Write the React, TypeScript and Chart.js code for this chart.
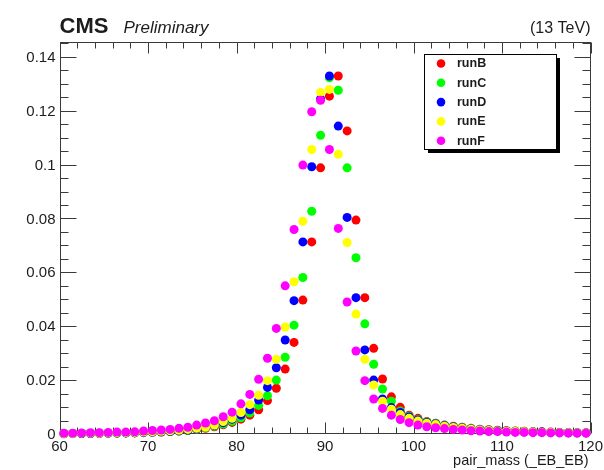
import { useEffect, useRef } from "react";
import { Chart, registerables } from "chart.js";

Chart.register(...registerables);

// Bin centres of pair_mass (GeV), 1 GeV bins from 60 to 120
const binCenters = [
  60.5, 61.5, 62.5, 63.5, 64.5, 65.5, 66.5, 67.5, 68.5, 69.5,
  70.5, 71.5, 72.5, 73.5, 74.5, 75.5, 76.5, 77.5, 78.5, 79.5,
  80.5, 81.5, 82.5, 83.5, 84.5, 85.5, 86.5, 87.5, 88.5, 89.5,
  90.5, 91.5, 92.5, 93.5, 94.5, 95.5, 96.5, 97.5, 98.5, 99.5,
  100.5, 101.5, 102.5, 103.5, 104.5, 105.5, 106.5, 107.5, 108.5, 109.5,
  110.5, 111.5, 112.5, 113.5, 114.5, 115.5, 116.5, 117.5, 118.5, 119.5,
];

const runNames = ["runB", "runC", "runD", "runE", "runF"];
const runColors = ["#ff0000", "#00ff00", "#0000ff", "#ffff00", "#ff00ff"];

const runB = [
  0.0001, 0.0002, 0.0002, 0.0002, 0.0002, 0.0003, 0.0003, 0.0004, 0.0004, 0.0005,
  0.0006, 0.0007, 0.0009, 0.0011, 0.0013, 0.0017, 0.0021, 0.0027, 0.0034, 0.0043,
  0.0055, 0.007, 0.009, 0.0124, 0.017, 0.0241, 0.034, 0.0497, 0.0713, 0.0988,
  0.1254, 0.1329, 0.1125, 0.0794, 0.0506, 0.0318, 0.0204, 0.0138, 0.0099, 0.007,
  0.0058, 0.0046, 0.004, 0.0033, 0.0029, 0.0025, 0.0021, 0.0018, 0.0016, 0.0014,
  0.0012, 0.0011, 0.001, 0.0009, 0.0008, 0.0007, 0.0006, 0.0006, 0.0005, 0.0005,
];

const runC = [
  0.0002, 0.0002, 0.0002, 0.0002, 0.0003, 0.0003, 0.0003, 0.0004, 0.0005, 0.0005,
  0.0006, 0.0008, 0.0009, 0.0011, 0.0014, 0.0018, 0.0023, 0.0029, 0.0037, 0.0047,
  0.006, 0.0078, 0.0106, 0.0142, 0.02, 0.0285, 0.0404, 0.0581, 0.0827, 0.1109,
  0.1322, 0.1276, 0.0988, 0.0654, 0.0409, 0.0259, 0.0167, 0.0122, 0.0085, 0.0066,
  0.0054, 0.0045, 0.0039, 0.0032, 0.0027, 0.0023, 0.002, 0.0017, 0.0015, 0.0013,
  0.0011, 0.001, 0.0009, 0.0008, 0.0007, 0.0006, 0.0006, 0.0005, 0.0005, 0.0004,
];

const runD = [
  0.0002, 0.0002, 0.0002, 0.0002, 0.0003, 0.0003, 0.0004, 0.0004, 0.0005, 0.0006,
  0.0007, 0.0008, 0.001, 0.0012, 0.0015, 0.0019, 0.0025, 0.0032, 0.0042, 0.0055,
  0.007, 0.009, 0.0126, 0.0173, 0.0246, 0.0349, 0.0495, 0.0713, 0.0992, 0.1244,
  0.1329, 0.1143, 0.0804, 0.0506, 0.0312, 0.02, 0.013, 0.0098, 0.008, 0.0063,
  0.0052, 0.0043, 0.0037, 0.0031, 0.0026, 0.0022, 0.0019, 0.0016, 0.0014, 0.0012,
  0.0011, 0.0009, 0.0008, 0.0007, 0.0007, 0.0006, 0.0005, 0.0005, 0.0004, 0.0004,
];

const runE = [
  0.0002, 0.0002, 0.0003, 0.0003, 0.0003, 0.0004, 0.0005, 0.0005, 0.0006, 0.0007,
  0.0008, 0.001, 0.0012, 0.0014, 0.0017, 0.0021, 0.0025, 0.0033, 0.0046, 0.0058,
  0.008, 0.0109, 0.0144, 0.0198, 0.0277, 0.0397, 0.0565, 0.079, 0.1056, 0.1268,
  0.1279, 0.1038, 0.0711, 0.0445, 0.0277, 0.0182, 0.0122, 0.0092, 0.0072, 0.0058,
  0.0048, 0.004, 0.0035, 0.0029, 0.0024, 0.0021, 0.0018, 0.0015, 0.0013, 0.0011,
  0.001, 0.0009, 0.0008, 0.0007, 0.0006, 0.0006, 0.0005, 0.0005, 0.0004, 0.0004,
];

const runF = [
  0.0003, 0.0003, 0.0004, 0.0005, 0.0005, 0.0006, 0.0007, 0.0007, 0.0008, 0.0011,
  0.0013, 0.0015, 0.0017, 0.0021, 0.0025, 0.0033, 0.0041, 0.0049, 0.0064, 0.0081,
  0.0112, 0.0147, 0.0203, 0.0281, 0.0392, 0.055, 0.0759, 0.0998, 0.1196, 0.1239,
  0.1056, 0.0763, 0.049, 0.0308, 0.0198, 0.013, 0.0095, 0.007, 0.0054, 0.0042,
  0.0033, 0.0027, 0.0023, 0.002, 0.0017, 0.0015, 0.0012, 0.0011, 0.0009, 0.0009,
  0.0007, 0.0006, 0.0006, 0.0005, 0.0005, 0.0004, 0.0004, 0.0003, 0.0003, 0.0003,
];

const runValues = [runB, runC, runD, runE, runF];

// Axis ticks
const xMajorTicks = [60, 70, 80, 90, 100, 110, 120];
const xTickLabels = ["60", "70", "80", "90", "100", "110", "120"];
const xMinorStep = 2;
const yMajorTicks = [0, 0.02, 0.04, 0.06, 0.08, 0.1, 0.12, 0.14];
const yTickLabels = ["0", "0.02", "0.04", "0.06", "0.08", "0.1", "0.12", "0.14"];
const yMinorStep = 0.005;

const X_MIN = 60;
const X_MAX = 120;
const Y_MIN = 0;
const Y_MAX = 0.1455;

const xTitle = "pair_mass (_EB_EB)";
const cmsText = "CMS";
const prelimText = "Preliminary";
const energyText = "(13 TeV)";

const FONT = "'Liberation Sans', Arial, Helvetica, sans-serif";
const TEXT_COLOR = "#1c1c1c";
const AXIS_COLOR = "#3a3a3a";

// ROOT-style frame with inward ticks on all four sides
const rootFrame = {
  id: "rootFrame",
  beforeDatasetsDraw(chart: any) {
    const { ctx, chartArea: a, scales } = chart;
    const xs = scales.x;
    const ys = scales.y;
    const L = Math.round(a.left) + 0.5;
    const R = Math.round(a.right) - 0.5;
    const T = Math.round(a.top) + 0.5;
    const B = Math.round(a.bottom) - 0.5;
    ctx.save();
    ctx.strokeStyle = AXIS_COLOR;
    ctx.lineWidth = 1;
    ctx.strokeRect(L, T, R - L, B - T);

    const line = (x1: number, y1: number, x2: number, y2: number) => {
      ctx.beginPath();
      ctx.moveTo(x1, y1);
      ctx.lineTo(x2, y2);
      ctx.stroke();
    };

    // x ticks (bottom and top)
    const xMajLen = 11;
    const xMinLen = 6;
    for (let v = X_MIN; v <= X_MAX + 1e-9; v += xMinorStep) {
      const px = Math.round(xs.getPixelForValue(v)) + 0.5;
      const major = xMajorTicks.some((t) => Math.abs(t - v) < 1e-9);
      const len = major ? xMajLen : xMinLen;
      line(px, B, px, B - len);
      line(px, T, px, T + len);
    }
    // y ticks (left and right)
    const yMajLen = 16;
    const yMinLen = 8;
    for (let i = 0; Y_MIN + i * yMinorStep <= Y_MAX + 1e-9; i++) {
      const v = Y_MIN + i * yMinorStep;
      const py = Math.round(ys.getPixelForValue(v)) + 0.5;
      const major = yMajorTicks.some((t) => Math.abs(t - v) < 1e-9);
      const len = major ? yMajLen : yMinLen;
      line(L, py, L + len, py);
      line(R, py, R - len, py);
    }

    // tick labels
    ctx.fillStyle = TEXT_COLOR;
    ctx.font = `15px ${FONT}`;
    ctx.textAlign = "right";
    ctx.textBaseline = "middle";
    yMajorTicks.forEach((v, i) => {
      ctx.fillText(yTickLabels[i], a.left - 4, ys.getPixelForValue(v) + 1);
    });
    ctx.textAlign = "center";
    ctx.textBaseline = "top";
    xMajorTicks.forEach((v, i) => {
      ctx.fillText(xTickLabels[i], xs.getPixelForValue(v), a.bottom + 5);
    });

    // axis title
    ctx.textAlign = "right";
    ctx.textBaseline = "alphabetic";
    ctx.font = `14.5px ${FONT}`;
    ctx.fillText(xTitle, a.right - 2, a.bottom + 31);

    // header
    ctx.textAlign = "left";
    ctx.font = `bold 22px ${FONT}`;
    ctx.fillText(cmsText, a.left, 33);
    ctx.font = `italic 17px ${FONT}`;
    ctx.fillText(prelimText, a.left + 64, 33);
    ctx.textAlign = "right";
    ctx.font = `16px ${FONT}`;
    ctx.fillText(energyText, a.right, 33);
    ctx.restore();
  },
};

// Legend box with a drop shadow
const rootLegend = {
  id: "rootLegend",
  afterDatasetsDraw(chart: any) {
    const { ctx } = chart;
    const bx = 424.5;
    const by = 54.5;
    const bw = 132;
    const bh = 95;
    const sh = 3.5;
    ctx.save();
    ctx.fillStyle = "#000";
    ctx.fillRect(bx + sh, by + bh, bw, sh);
    ctx.fillRect(bx + bw, by + sh, sh, bh);
    ctx.fillStyle = "#fff";
    ctx.fillRect(bx, by, bw, bh);
    ctx.strokeStyle = "#000";
    ctx.lineWidth = 1;
    ctx.strokeRect(bx, by, bw, bh);
    ctx.font = `bold 12.5px ${FONT}`;
    ctx.textBaseline = "middle";
    ctx.textAlign = "left";
    chart.data.datasets.forEach((ds: any, i: number) => {
      const cy = 63.5 + i * 19.3;
      ctx.fillStyle = ds.backgroundColor;
      ctx.beginPath();
      ctx.arc(441, cy, 4.3, 0, Math.PI * 2);
      ctx.fill();
      ctx.fillStyle = TEXT_COLOR;
      ctx.fillText(ds.label, 457, cy + 0.5);
    });
    ctx.restore();
  },
};

export default function App() {
  const ref = useRef<HTMLCanvasElement>(null);

  useEffect(() => {
    if (!ref.current) return;
    const datasets = runNames.map((name, k) => ({
      label: name,
      data: binCenters.map((x, i) => ({ x, y: runValues[k][i] })),
      backgroundColor: runColors[k],
      borderColor: runColors[k],
      pointRadius: 4.5,
      pointBorderWidth: 0,
      pointHoverRadius: 4.5,
      showLine: false,
      clip: false as any,
      // later runs are painted on top
      order: runNames.length - k,
    }));

    const chart = new Chart(ref.current, {
      type: "scatter",
      data: { datasets },
      options: {
        animation: false,
        responsive: false,
        devicePixelRatio: 1,
        events: [],
        layout: { padding: { left: 59.5, right: 13.5, top: 42, bottom: 36 } },
        scales: {
          x: { type: "linear", min: X_MIN, max: X_MAX, display: false },
          y: { type: "linear", min: Y_MIN, max: Y_MAX, display: false },
        },
        plugins: {
          legend: { display: false },
          tooltip: { enabled: false },
          title: { display: false },
        },
      },
      plugins: [rootFrame, rootLegend],
    });
    return () => chart.destroy();
  }, []);

  return (
    <div
      style={{
        position: "fixed",
        left: 0,
        top: 0,
        width: 604,
        height: 470,
        background: "#fff",
      }}
    >
      <canvas
        ref={ref}
        width={604}
        height={470}
        style={{ display: "block", filter: "blur(0.35px)" }}
      />
    </div>
  );
}
